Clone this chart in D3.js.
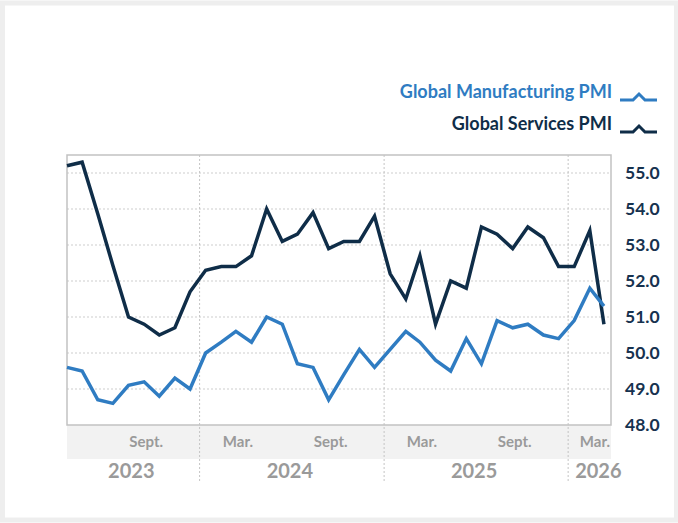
<!DOCTYPE html>
<html>
<head>
<meta charset="utf-8">
<script src="https://cdn.jsdelivr.net/npm/d3@7"></script>
<style>
  body { margin: 0; background: #fff; }
  text { font-family: Lato, "Open Sans", sans-serif; font-weight: 700; }
</style>
</head>
<body>
<div id="chart"></div>
<script>

// monthly readings, Apr 2023 .. Mar 2026
var months = [
    "2023-04","2023-05","2023-06","2023-07","2023-08","2023-09","2023-10","2023-11","2023-12",
    "2024-01","2024-02","2024-03","2024-04","2024-05","2024-06","2024-07","2024-08","2024-09","2024-10","2024-11","2024-12",
    "2025-01","2025-02","2025-03","2025-04","2025-05","2025-06","2025-07","2025-08","2025-09","2025-10","2025-11","2025-12",
    "2026-01","2026-02","2026-03"
];

var manufacturing = [
    49.6, 49.5, 48.7, 48.6, 49.1, 49.2, 48.8, 49.3, 49.0,
    50.0, 50.3, 50.6, 50.3, 51.0, 50.8, 49.7, 49.6, 48.7, 49.4, 50.1, 49.6,
    50.1, 50.6, 50.3, 49.8, 49.5, 50.4, 49.7, 50.9, 50.7, 50.8, 50.5, 50.4,
    50.9, 51.8, 51.3
];

var services = [
    55.2, 55.3, 53.87, 52.43, 51.0, 50.8, 50.5, 50.7, 51.7,
    52.3, 52.4, 52.4, 52.7, 54.0, 53.1, 53.3, 53.9, 52.9, 53.1, 53.1, 53.8,
    52.2, 51.5, 52.7, 50.8, 52.0, 51.8, 53.5, 53.3, 52.9, 53.5, 53.2, 52.4,
    52.4, 53.4, 50.8
];

var yTicks = [48, 49, 50, 51, 52, 53, 54, 55];
var tickMonths = ["2023-09", "2024-03", "2024-09", "2025-03", "2025-09", "2026-03"];
var tickLabels = ["Sept.", "Mar.", "Sept.", "Mar.", "Sept.", "Mar."];
var years = ["2023", "2024", "2025", "2026"];

var seriesNames = ["Global Manufacturing PMI", "Global Services PMI"];
var seriesColors = ["#2f7cc2", "#0f2d48"];


var chart = {
    svgWidth: 678,
    svgHeight: 523,
    plot: {"left": 67, "right": 611, "top": 155, "bottom": 425},
};

function monthDate(m, day) {
    var p = m.split("-");
    return new Date(Date.UTC(+p[0], +p[1] - 1, day));
}

var svg = d3.select("#chart").append("svg")
    .attr("width", chart.svgWidth)
    .attr("height", chart.svgHeight);

// light frame round the card
svg.append("rect")
    .attr("x", 2.5).attr("y", 3)
    .attr("width", chart.svgWidth - 4)
    .attr("height", chart.svgHeight - 6)
    .attr("fill", "none")
    .attr("stroke", "#eeeeee")
    .attr("stroke-width", 5);

var p = chart.plot;

var xScale = d3.scaleUtc()
    .domain([Date.UTC(2023, 3, 13), Date.UTC(2026, 2, 27)])
    .range([p.left, p.right]);

var yScale = d3.scaleLinear()
    .domain([48, 55.5])
    .range([p.bottom, p.top]);

// tick band under the plot
svg.append("rect")
    .attr("x", p.left)
    .attr("y", p.bottom)
    .attr("width", p.right - p.left)
    .attr("height", 34)
    .attr("fill", "#f2f2f2");

// horizontal dotted grid
svg.append("g").selectAll("line")
    .data(yTicks.filter(d => d > 48))
    .enter().append("line")
    .attr("x1", p.left).attr("x2", p.right)
    .attr("y1", d => yScale(d)).attr("y2", d => yScale(d))
    .attr("stroke", "#cdcdcd")
    .attr("stroke-width", 1)
    .attr("stroke-dasharray", "2,2");

// year dividers
var yearStarts = years.slice(1).map(y => new Date(Date.UTC(+y, 0, 1)));
svg.append("g").selectAll("line")
    .data(yearStarts)
    .enter().append("line")
    .attr("x1", d => xScale(d)).attr("x2", d => xScale(d))
    .attr("y1", p.top).attr("y2", 482)
    .attr("stroke", "#c4c4c4")
    .attr("stroke-width", 1)
    .attr("stroke-dasharray", "2,2");

// plot border
svg.append("rect")
    .attr("x", p.left).attr("y", p.top)
    .attr("width", p.right - p.left)
    .attr("height", p.bottom - p.top)
    .attr("fill", "none")
    .attr("stroke", "#c2c2c2")
    .attr("stroke-width", 1.5);

// y axis on the right
var yAxis = d3.axisRight(yScale)
    .tickValues(yTicks)
    .tickFormat(d3.format(".1f"))
    .tickSize(0)
    .tickPadding(14);

svg.append("g")
    .attr("class", "yAxis")
    .attr("transform", "translate(" + p.right + ", 0)")
    .call(yAxis)
    .call(g => g.select(".domain").remove())
    .selectAll("text")
        .attr("fill", "#16324f")
        .style("font-size", "17.5px")
        .style("font-family", "Lato, sans-serif");

// month labels
svg.append("g").selectAll("text")
    .data(tickMonths)
    .enter().append("text")
    .attr("x", d => xScale(monthDate(d, 17)))
    .attr("y", 447)
    .attr("text-anchor", "middle")
    .attr("fill", "#9a9a9a")
    .style("font-size", "15px")
    .text((d, i) => tickLabels[i])
    .each(function() {
        // keep the last label inside the band
        var w = this.getComputedTextLength();
        var x = +d3.select(this).attr("x");
        if (x + w / 2 > p.right - 1) d3.select(this).attr("x", p.right - 1 - w / 2);
    });

// year labels, centred in their span
svg.append("g").selectAll("text")
    .data(years)
    .enter().append("text")
    .attr("y", 478)
    .attr("text-anchor", "middle")
    .attr("fill", "#9a9a9a")
    .style("font-size", "20px")
    .text(d => d)
    .each(function(d) {
        var x0 = Math.max(p.left, xScale(new Date(Date.UTC(+d, 0, 1))));
        var x1 = Math.min(p.right, xScale(new Date(Date.UTC(+d + 1, 0, 1))));
        var w = this.getComputedTextLength();
        var cx = Math.max((x0 + x1) / 2 - 2, x0 + 7 + w / 2);
        d3.select(this).attr("x", cx);
    });

// lines
var line = d3.line()
    .x((d, i) => xScale(monthDate(months[i], 13)))
    .y(d => yScale(d));

[services, manufacturing].forEach(function(vals) {
    var idx = vals === manufacturing ? 0 : 1;
    svg.append("path")
        .datum(vals)
        .attr("fill", "none")
        .attr("stroke", seriesColors[idx])
        .attr("stroke-width", 3.5)
        .attr("stroke-linejoin", "miter")
        .attr("d", line);
});

// legend
var legend = svg.append("g").selectAll("g")
    .data(seriesNames)
    .enter().append("g")
    .attr("transform", (d, i) => "translate(0," + (98 + i * 32) + ")");

legend.append("text")
    .attr("x", 612)
    .attr("text-anchor", "end")
    .attr("fill", (d, i) => seriesColors[i])
    .style("font-size", "18px")
    .text(d => d);

legend.append("path")
    .attr("d", "M620,2 L633,2 L639,-4 L645,2 L657,2")
    .attr("fill", "none")
    .attr("stroke", (d, i) => seriesColors[i])
    .attr("stroke-width", 3);

</script>
</body>
</html>
